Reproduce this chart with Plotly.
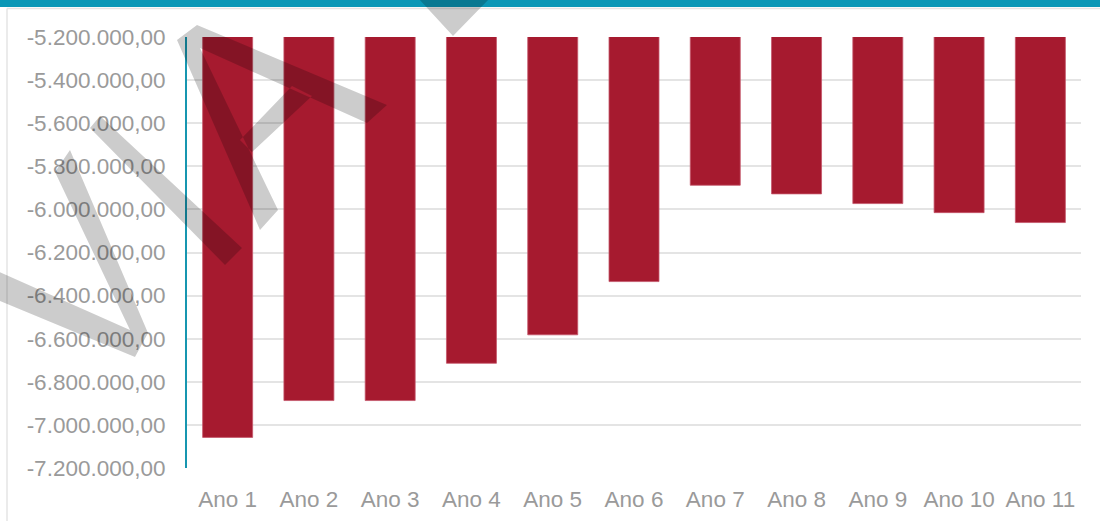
import plotly.graph_objects as go

# Category labels and yearly values
anos = ["Ano 1", "Ano 2", "Ano 3", "Ano 4", "Ano 5", "Ano 6",
        "Ano 7", "Ano 8", "Ano 9", "Ano 10", "Ano 11"]
valores = [-7058000, -6887000, -6887000, -6714000, -6582000, -6335000,
           -5888000, -5928000, -5973000, -6015000, -6061000]

# Value axis ticks
y_ticks = [-7200000 + 200000 * i for i in range(11)]
y_labels = [f"{v:,.2f}".replace(",", "#").replace(".", ",").replace("#", ".") for v in y_ticks]

W, H = 1100, 521
ML, MR, MT, MB = 187, 19, 37, 53
PW, PH = W - ML - MR, H - MT - MB


def px(x):
    return (x - ML) / PW


def py(y):
    return 1 - (y - MT) / PH


def poly_path(points):
    # keep a consistent winding so overlapping pieces fill once
    area = sum(points[i][0] * points[(i + 1) % len(points)][1] -
               points[(i + 1) % len(points)][0] * points[i][1]
               for i in range(len(points)))
    if area < 0:
        points = points[::-1]
    return "M " + " L ".join(f"{px(x):.5f},{py(y):.5f}" for x, y in points) + " Z"


# translucent stamp strokes
stamp = [
    [(-5, 270), (130, 330), (55, 172), (70, 150), (148, 333), (135, 357), (-5, 299)],
    [(90, 128), (100, 116), (242, 248), (225, 265)],
    [(177, 40), (197, 25), (387, 105), (367, 123), (200, 48), (278, 210), (260, 230)],
    [(240, 140), (292, 86), (312, 96), (252, 152)],
    [(418, -2), (490, -2), (453, 36)],
]

fig = go.Figure(go.Bar(
    x=anos, y=valores,
    marker=dict(color="#A61A2F", line=dict(color="#C4566A", width=0.8)),
))

shapes = [
    # frame: teal band on top, thin grey rules
    dict(type="rect", xref="paper", yref="paper", x0=px(0), x1=px(W), y0=py(7), y1=py(-2),
         fillcolor="#0A97B6", line=dict(width=0), layer="below"),
    dict(type="line", xref="paper", yref="paper", x0=px(7), x1=px(W), y0=py(8.5), y1=py(8.5),
         line=dict(color="#E4E4E4", width=1.5), layer="below"),
    dict(type="line", xref="paper", yref="paper", x0=px(7), x1=px(7), y0=py(8.5), y1=py(H + 2),
         line=dict(color="#E4E4E4", width=1.5), layer="below"),
]
shapes.append(dict(type="path", xref="paper", yref="paper",
                   path=" ".join(poly_path(p) for p in stamp),
                   fillcolor="rgba(0,0,0,0.2)", line=dict(width=0), layer="above"))

fig.update_layout(
    width=W, height=H,
    margin=dict(l=ML, r=MR, t=MT, b=MB, autoexpand=False),
    paper_bgcolor="white", plot_bgcolor="white",
    bargap=0.385,
    showlegend=False,
    shapes=shapes,
    font=dict(family="Liberation Sans, Arial, sans-serif", color="#9A9A9A"),
    xaxis=dict(
        automargin=False,
        showgrid=False, showline=False, zeroline=False,
        ticks="outside", ticklen=11, tickcolor="rgba(0,0,0,0)",
        tickfont=dict(size=22.5, color="#9A9A9A"),
    ),
    yaxis=dict(
        automargin=False,
        range=[-7200000, -5200000],
        tickvals=y_ticks, ticktext=y_labels,
        showgrid=True, gridcolor="#E4E4E4", gridwidth=1.5,
        zeroline=False,
        showline=True, linecolor="#1796B0", linewidth=2,
        ticks="outside", ticklen=15, tickcolor="rgba(0,0,0,0)",
        tickfont=dict(size=22.5, color="#9A9A9A"),
    ),
)

fig.write_html("out.html")
